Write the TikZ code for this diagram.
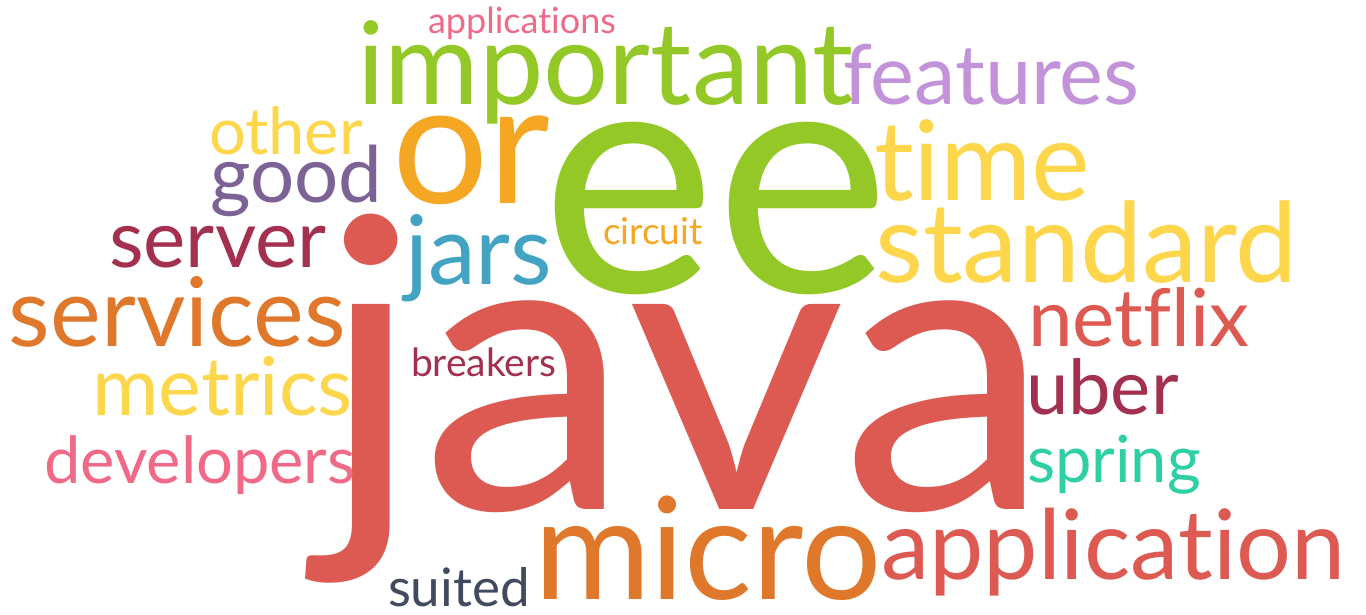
\documentclass[tikz,border=0pt]{standalone}
\usepackage{fontspec}
\setmainfont{Lato}[Ligatures={NoCommon}]
\definecolor{cred}{HTML}{DD5A52}
\definecolor{cgreen}{HTML}{94C826}
\definecolor{corange}{HTML}{F5A623}
\definecolor{corange2}{HTML}{E0782B}
\definecolor{clav}{HTML}{C393D9}
\definecolor{cpink}{HTML}{F06A88}
\definecolor{cyellow}{HTML}{FDD64B}
\definecolor{cpurple}{HTML}{7D6395}
\definecolor{cdark}{HTML}{A3304E}
\definecolor{cteal}{HTML}{42A3C3}
\definecolor{cmint}{HTML}{2ECFA5}
\definecolor{cslate}{HTML}{414A5F}
\tikzset{w/.style={inner sep=0pt,outer sep=0pt,anchor=base west}}
\newcommand{\fs}[1]{\fontsize{#1}{#1}\selectfont}
\begin{document}
\begin{tikzpicture}[x=1pt,y=1pt]
\fill[white] (0,0) rectangle (1366,615);
\useasboundingbox (0,0) rectangle (1366,615);
\node[w,text=cpink] (applications) at (428,581) {\fs{36}applications};
\node[w,text=cgreen] (important) at (357,510) {\fs{115}important};
\node[w,text=clav] (features) at (843,510) {\fs{83}features};
\node[w,text=corange] (or) at (392,411) {\fs{170}or};
\node[w,text=cyellow] (other) at (209,460) {\fs{65}other};
\node[w,text=cpurple] (good) at (210,412) {\fs{78}good};
\node[w,text=cyellow] (time) at (874,414) {\fs{111}time};
\node[w,text=cyellow] (standard) at (875,332) {\fs{111}standard};
\node[w,text=cdark] (server) at (109,347) {\fs{80}server};
\node[w,text=cteal] (jars) at (405,330) {\fs{96}jars};
\node[w,text=corange] (circuit) at (603,370) {\fs{37}circuit};
\node[w,text=cgreen] (ee) at (541,322) {\fs{331}ee};
\node[w,text=corange2] (services) at (9,268) {\fs{96}services};
\node[w,text=cred,xscale=1.045,transform shape] (java) at (320,105) {\fs{405}java};
\node[w,text=cred] (netflix) at (1028,268) {\fs{80}netflix};
\node[w,text=cdark] (breakers) at (411,238) {\fs{39}breakers};
\node[w,text=cyellow] (metrics) at (92,199) {\fs{81}metrics};
\node[w,text=cdark] (uber) at (1026,200) {\fs{76}uber};
\node[w,text=cpink] (developers) at (44,131) {\fs{65}developers};
\node[w,text=cmint] (spring) at (1027,132) {\fs{65}spring};
\node[w,text=corange2] (micro) at (534,15) {\fs{142}micro};
\node[w,text=cred] (application) at (881,35) {\fs{97}application};
\node[w,text=cslate] (suited) at (388,8) {\fs{53}suited};
\end{tikzpicture}
\end{document}
